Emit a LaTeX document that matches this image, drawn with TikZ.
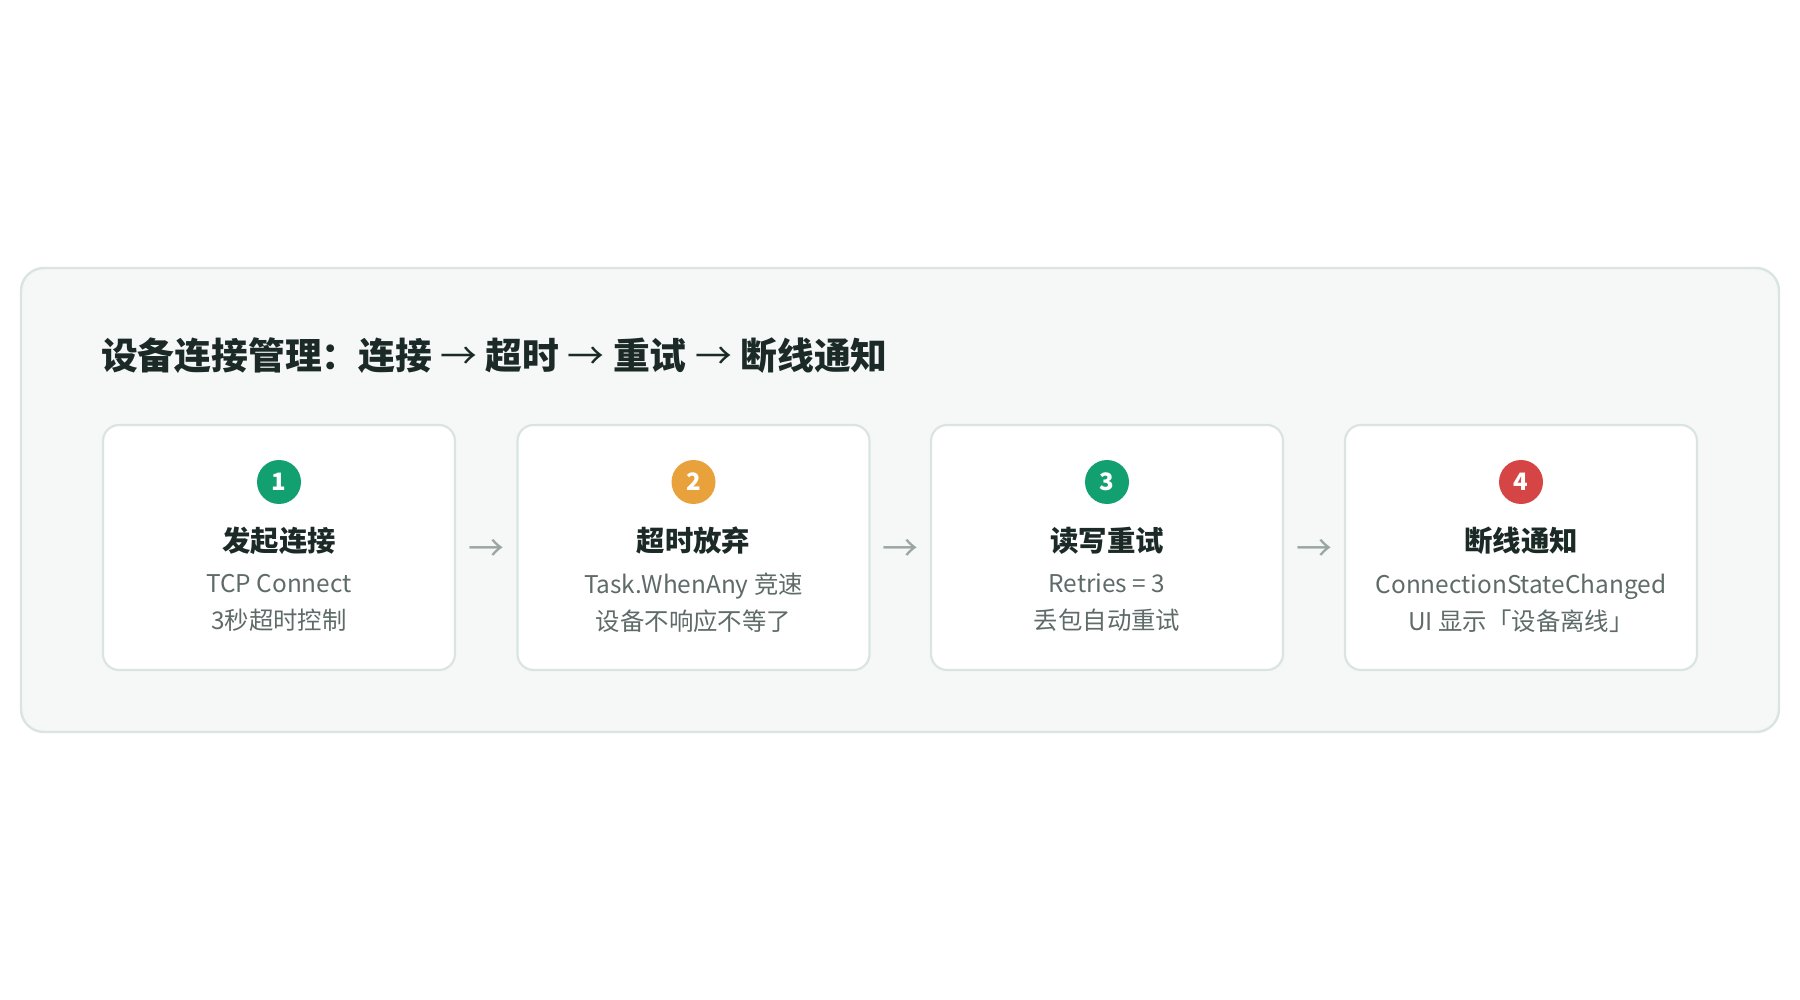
\documentclass[tikz,border=0pt]{standalone}
\usepackage{fontspec}
\usetikzlibrary{calc}
\setmainfont{Noto Sans CJK SC}
\definecolor{panelfill}{HTML}{F6F8F7}
\definecolor{panelline}{HTML}{DAE5E1}
\definecolor{titlecol}{HTML}{1B2A26}
\definecolor{subcol}{HTML}{5E6B68}
\definecolor{arrowcol}{HTML}{9AA6A3}
\definecolor{cgreen}{HTML}{13A070}
\definecolor{corange}{HTML}{E9A23B}
\definecolor{cred}{HTML}{D64545}
\tikzset{
  panel/.style={draw=panelline, line width=1.2pt, fill=panelfill, rounded corners=11.5pt},
  card/.style={draw=panelline, line width=1.1pt, fill=white, rounded corners=8pt, minimum width=176pt, minimum height=122.5pt, inner sep=0pt},
  badge/.style={circle, minimum size=22pt, inner sep=0pt, text=white, font=\bfseries\fontsize{12}{14}\selectfont},
  cardtitle/.style={text=titlecol, font=\bfseries\fontsize{14.2}{17}\selectfont},
  cardsub/.style={text=subcol, font=\fontsize{12.2}{18.5}\selectfont, align=center},
  flowarrow/.style={text=arrowcol, font=\fontsize{18}{20}\selectfont},
}
\begin{document}
\begin{tikzpicture}[x=0.5pt,y=-0.5pt]
\useasboundingbox (0,0) rectangle (1800,1000);
\fill[white] (0,0) rectangle (1800,1000);
\draw[panel] (21,268) rectangle (1779,732);
\node[anchor=west, text=titlecol, font=\bfseries\fontsize{18.4}{22}\selectfont] (title) at (94,356) {设备连接管理：连接 {\mdseries→} 超时 {\mdseries→} 重试 {\mdseries→} 断线通知};
\foreach \i/\cx/\col/\ttl/\la/\lb in {
  1/279/cgreen/发起连接/TCP Connect/3秒超时控制,
  2/693.5/corange/超时放弃/Task.WhenAny 竞速/设备不响应不等了,
  3/1107/cgreen/读写重试/Retries = 3/丢包自动重试,
  4/1521/cred/断线通知/ConnectionStateChanged/UI 显示「设备离线」}{
  \node[card] (card\i) at (\cx,547.5) {};
  \node[badge, fill=\col] (badge\i) at (\cx,482) {\i};
  \node[cardtitle] (ctitle\i) at (\cx,541) {\ttl};
  \node[cardsub] (csub\i) at (\cx,603) {\la\\\lb};
}
\foreach \a/\b in {1/2,2/3,3/4}{
  \node[flowarrow] (arr\a) at ($(card\a.east)!0.5!(card\b.west)+(0,3)$) {→};
}
\end{tikzpicture}
\end{document}
